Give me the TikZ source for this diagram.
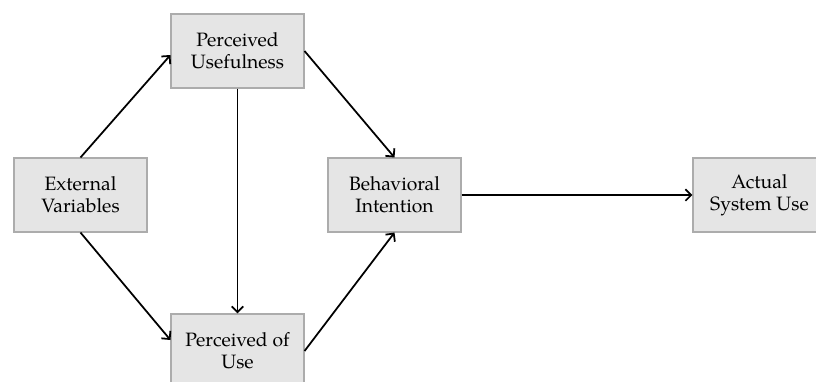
\documentclass[tikz,border=0pt]{standalone}
\usepackage{fontspec}
\setmainfont{TeX Gyre Pagella}
\usepackage{xcolor}
\usepackage{tikz}
\usetikzlibrary{arrows.meta,positioning,calc}

\begin{document}
\begin{tikzpicture}[x=0.03cm,y=-0.03cm,
  box/.style={draw=gray!65,fill=gray!20,line width=0.9pt,minimum width=3.99cm,
    minimum height=2.22cm,align=center,text=black,font=\fontsize{16.5}{19}\selectfont},
  arr/.style={-{Straight Barb[length=5pt,width=10pt]},line width=1.5pt}]
  \useasboundingbox (0,0) rectangle (816,381);
  \node[box] (ext) at (80.5,195) {External\\Variables};
  \node[box] (pu) at (237.5,51) {Perceived\\Usefulness};
  \node[box] (peou) at (237.5,351) {Perceived of\\Use};
  \node[box] (bi) at (394.5,195) {Behavioral\\Intention};
  \node[box] (asu) at (759.5,195) {Actual\\System Use};
  \draw[arr] (ext.north) -- ([yshift=-0.12cm]pu.west);
  \draw[arr] (ext.south) -- ([yshift=0.33cm]peou.west);
  \draw[arr] (pu.south) -- (peou.north);
  \draw[arr] (pu.east) -- (bi.north);
  \draw[arr] (peou.east) -- (bi.south);
  \draw[arr] (bi.east) -- (asu.west);
\end{tikzpicture}
\end{document}
